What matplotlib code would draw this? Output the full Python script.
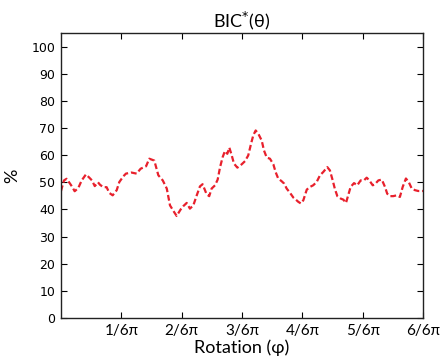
import numpy as np
import matplotlib
matplotlib.use("Agg")
import matplotlib.pyplot as plt

# rotation angle in degrees (0..180 = 0..pi) and BIC* percentage
phiDeg = [0, 1.5, 2.8, 4.5, 5.6, 6.8, 8.6, 10.3, 12.4, 14.1, 15.4, 16.8, 18.4, 19.4,
          21.0, 22.7, 24.0, 25.7, 27.7, 29.0, 31.0, 32.3, 35.0, 37.6, 39.6, 42.3, 43.9,
          46.4, 48.4, 50.6, 52.6, 54.2, 56.2, 57.5, 59.5, 60.8, 62.5, 64.1, 65.8, 67.5,
          69.1, 70.4, 72.4, 73.7, 74.9, 76.6, 77.9, 79.1, 80.4, 81.5, 82.7, 83.7, 84.9,
          86.0, 87.7, 89.8, 91.5, 93.1, 94.5, 95.6, 96.8, 98.1, 99.8, 100.9, 102.3,
          103.9, 105.6, 106.7, 108.0, 109.7, 111.0, 112.2, 113.9, 115.5, 116.8, 118.0,
          119.3, 120.5, 122.2, 123.8, 125.4, 127.1, 128.8, 130.4, 132.4, 133.7, 135.1,
          136.2, 137.4, 139.1, 140.4, 141.7, 142.8, 144.0, 145.7, 147.3, 149.0, 150.6,
          152.0, 153.3, 155.0, 156.1, 157.8, 159.5, 161.1, 162.2, 163.6, 165.2, 166.9,
          168.5, 169.9, 171.5, 172.9, 174.4, 176.0, 177.6, 180.0]
bicPct = [46.8, 50.7, 51.3, 49.5, 48.3, 46.7, 47.9, 50.7, 52.9, 51.7, 50.7, 48.6, 50.0,
          49.1, 48.2, 48.2, 46.1, 45.2, 47.1, 50.1, 52.2, 53.2, 53.6, 53.2, 55.0, 55.9,
          58.7, 58.0, 52.6, 50.7, 47.7, 41.5, 39.1, 37.6, 40.0, 41.2, 42.4, 40.3, 41.5,
          45.2, 48.5, 49.3, 45.6, 44.9, 47.7, 48.9, 51.0, 55.6, 59.3, 61.5, 60.5, 62.8,
          59.9, 56.9, 55.4, 56.6, 57.8, 59.9, 64.2, 67.3, 69.1, 67.9, 65.4, 61.8, 59.1,
          58.7, 56.6, 53.8, 51.4, 50.4, 49.5, 47.7, 46.1, 44.4, 43.6, 42.8, 42.2, 43.4,
          47.3, 48.3, 48.9, 50.1, 52.6, 53.8, 55.6, 54.4, 50.7, 47.5, 44.9, 44.0, 43.6,
          42.4, 45.2, 48.3, 49.7, 48.9, 50.7, 50.7, 51.7, 50.7, 48.9, 49.3, 50.7, 51.0,
          48.3, 45.8, 44.9, 44.9, 45.2, 44.6, 48.3, 51.4, 50.1, 47.7, 47.1, 46.8, 46.8]

xTickPos = [k * np.pi / 6 for k in range(1, 7)]
xTickLabels = ['1/6π', '2/6π', '3/6π', '4/6π', '5/6π', '6/6π']
yTicks = list(range(0, 101, 10))

fig = plt.figure(figsize=(4.4, 3.62), dpi=100)
ax = fig.add_axes([0.1386, 0.1215, 0.8228, 0.7873])

ax.plot(np.radians(phiDeg), bicPct, color='#e8202c', linestyle=(0, (2.6, 1.3)), linewidth=1.6)

ax.set_xlim(0, np.pi)
ax.set_ylim(0, 105)
ax.set_xticks(xTickPos)
ax.set_xticklabels(xTickLabels, fontfamily='Lato', fontsize=11)
ax.set_yticks(yTicks)
ax.set_yticklabels([str(t) for t in yTicks], fontfamily='DejaVu Sans', fontsize=9)
ax.tick_params(direction='in', length=4, width=0.8, top=True, right=True, pad=4)
for s in ax.spines.values():
    s.set_linewidth(1.0)
    s.set_color('#222222')

ax.set_title('BIC$^{*}$(θ)', fontfamily='Lato', fontsize=13, pad=4)
ax.set_xlabel('Rotation (φ)', fontfamily='Lato', fontsize=13, labelpad=1)
ax.set_ylabel('%', fontfamily='Lato', fontsize=13, labelpad=8)

fig.savefig('out.png', dpi=100)
